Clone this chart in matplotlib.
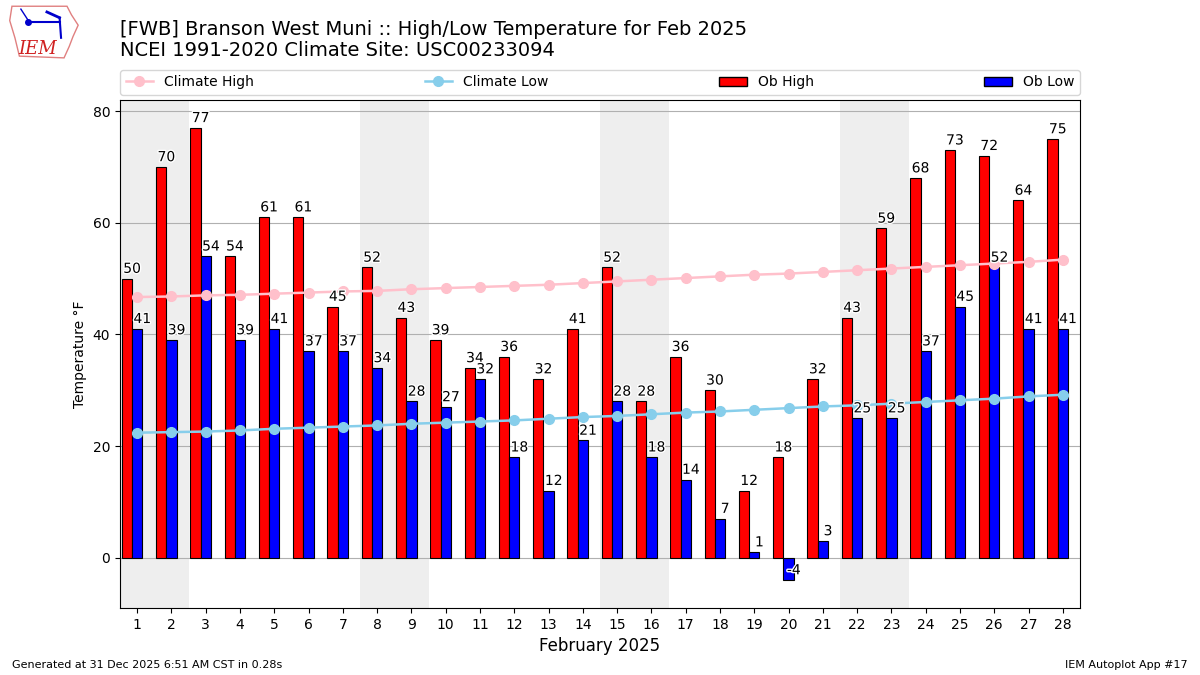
import datetime

import matplotlib
import numpy as np

matplotlib.use("Agg")
import matplotlib.patheffects as pe
import matplotlib.pyplot as plt
from matplotlib.patches import Patch, Polygon
from matplotlib.lines import Line2D

# observed highs / lows, Feb 2025
days = list(range(1, 29))
ob_high = [50, 70, 77, 54, 61, 61, 45, 52, 43, 39, 34, 36, 32, 41,
           52, 28, 36, 30, 12, 18, 32, 43, 59, 68, 73, 72, 64, 75]
ob_low = [41, 39, 54, 39, 41, 37, 37, 34, 28, 27, 32, 18, 12, 21,
          28, 18, 14, 7, 1, -4, 3, 25, 25, 37, 45, 52, 41, 41]
# NCEI 1991-2020 daily normals
clim_high = [46.7, 46.8, 47.0, 47.1, 47.3, 47.5, 47.7, 47.8, 48.1, 48.3,
             48.5, 48.7, 48.9, 49.2, 49.5, 49.8, 50.1, 50.4, 50.7, 50.9,
             51.2, 51.5, 51.8, 52.1, 52.4, 52.7, 53.0, 53.4]
clim_low = [22.4, 22.5, 22.6, 22.8, 23.1, 23.3, 23.5, 23.7, 24.0, 24.2,
            24.4, 24.6, 24.9, 25.2, 25.4, 25.7, 26.0, 26.2, 26.5, 26.8,
            27.1, 27.3, 27.6, 27.9, 28.2, 28.5, 28.9, 29.2]

x = np.array(days)

fig = plt.figure(figsize=(12, 6.75), dpi=100)
ax = fig.add_axes([0.1, 0.0993, 0.8, 0.7526])

# weekend shading
for d in days:
    if datetime.date(2025, 2, d).weekday() >= 5:
        ax.axvspan(d - 0.5, d + 0.5, color="#EEEEEE", zorder=0, lw=0)

ax.bar(x - 0.3, ob_high, width=0.3, color="r", edgecolor="k", lw=0.8, zorder=3)
ax.bar(x, ob_low, width=0.3, color="b", edgecolor="k", lw=0.8, zorder=3)
ax.plot(x, clim_high, color="pink", marker="o", ms=7, lw=1.8, zorder=4)
ax.plot(x, clim_low, color="skyblue", marker="o", ms=7, lw=1.8, zorder=4)

stroke = [pe.withStroke(linewidth=2, foreground="white")]
for xi, h, l in zip(x, ob_high, ob_low):
    ax.annotate(f"{h}", (xi - 0.15, h), xytext=(0, 2), textcoords="offset points",
                ha="center", va="bottom", fontsize=10, zorder=5, path_effects=stroke)
    ax.annotate(f"{l}", (xi + 0.15, l), xytext=(0, 2), textcoords="offset points",
                ha="center", va="bottom", fontsize=10, zorder=5, path_effects=stroke)

ax.set_xlim(0.5, 28.5)
ax.set_ylim(min(ob_low) - 5, max(ob_high) + 5)
ax.set_xticks(days)
ax.set_yticks([0, 20, 40, 60, 80])
ax.yaxis.grid(True, color="#b0b0b0", zorder=1)
ax.set_axisbelow(True)
ax.set_xlabel("February 2025", fontsize=12)
ax.set_ylabel("Temperature \u00b0F")

handles = [
    Line2D([0], [0], color="pink", marker="o", ms=7, lw=1.8, label="Climate High"),
    Line2D([0], [0], color="skyblue", marker="o", ms=7, lw=1.8, label="Climate Low"),
    Patch(facecolor="r", edgecolor="k", label="Ob High"),
    Patch(facecolor="b", edgecolor="k", label="Ob Low"),
]
ax.legend(handles=handles, ncol=4, mode="expand", loc="lower left",
          bbox_to_anchor=(0, 1.01, 1, 0.0), borderaxespad=0, fontsize=10)

fig.text(0.1, 0.97, "[FWB] Branson West Muni :: High/Low Temperature for Feb 2025\n"
         "NCEI 1991-2020 Climate Site: USC00233094", fontsize=14, va="top", ha="left",
         linespacing=1.1)
fig.text(0.01, 0.01, "Generated at 31 Dec 2025 6:51 AM CST in 0.28s", fontsize=8)
fig.text(0.99, 0.01, "IEM Autoplot App #17", fontsize=8, ha="right")

# rough IEM logo
lax = fig.add_axes([0.005, 0.91, 0.062, 0.085])
lax.set_xlim(0, 1)
lax.set_ylim(0, 1)
lax.axis("off")
lax.add_patch(Polygon([(0.08, 0.95), (0.82, 0.95), (0.88, 0.8), (0.97, 0.62), (0.9, 0.42),
                       (0.85, 0.25), (0.78, 0.05), (0.18, 0.08), (0.12, 0.4), (0.05, 0.7)],
                      closed=True, fill=False, ec="#e08080", lw=1))
lax.plot([0.3, 0.72], [0.68, 0.68], color="#0000cc", lw=1.5)
lax.plot([0.3], [0.68], "o", color="#0000cc", ms=4)
lax.plot([0.2, 0.3], [0.9, 0.7], color="#0000cc", lw=1)
lax.plot([0.55, 0.72], [0.85, 0.75], color="#0000cc", lw=2)
lax.plot([0.72, 0.74], [0.75, 0.4], color="#0000cc", lw=1.5)
lax.text(0.42, 0.12, "IEM", color="#d02020", fontsize=13, family="DejaVu Serif",
         style="italic", ha="center")

fig.savefig("out.png", dpi=100, facecolor="white")
